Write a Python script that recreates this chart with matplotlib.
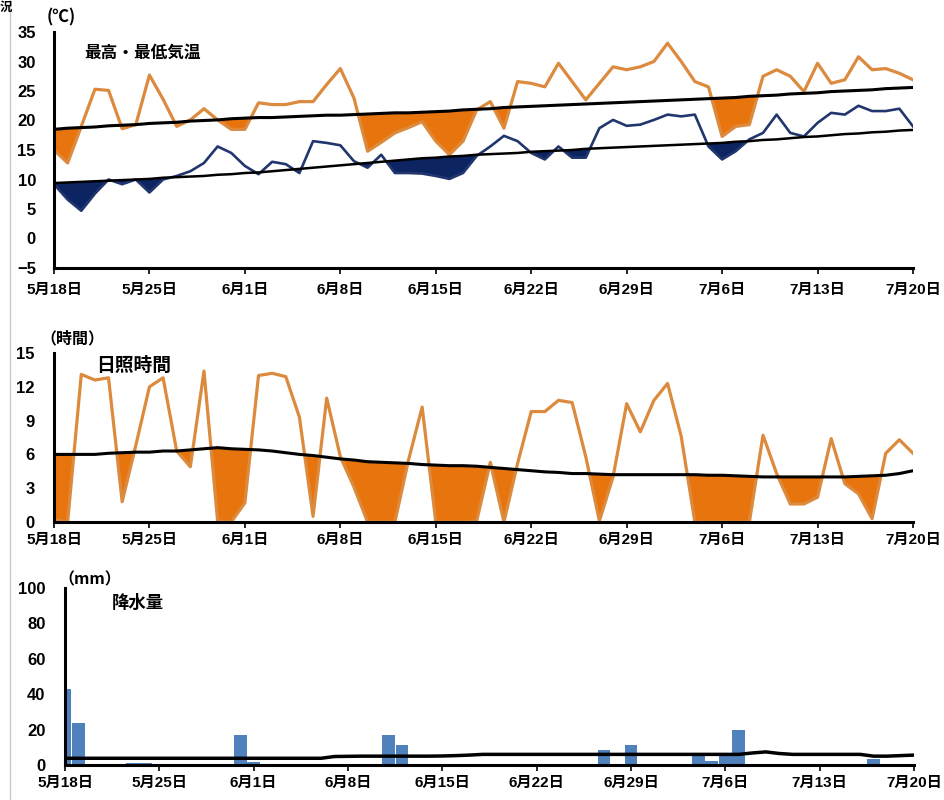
import numpy as np
import matplotlib
matplotlib.use('Agg')
import matplotlib.pyplot as plt
from matplotlib.lines import Line2D

plt.rcParams['font.family'] = ['Noto Sans CJK JP', 'DejaVu Sans']
plt.rcParams['font.weight'] = 'bold'
TICK_FONT = ['Liberation Sans', 'Noto Sans CJK JP']

# days from 5/18 to 7/20
tick_days = [0, 7, 14, 21, 28, 35, 42, 49, 56, 63]
tick_labels = ['5月18日', '5月25日', '6月1日', '6月8日', '6月15日',
               '6月22日', '6月29日', '7月6日', '7月13日', '7月20日']

t_max = [15.0, 12.8, 19.0, 25.3, 25.1, 18.6, 19.3, 27.7, 23.6, 19.0,
         20.1, 22.0, 20.1, 18.5, 18.5, 23.0, 22.7, 22.7, 23.2, 23.2,
         26.1, 28.8, 23.8, 14.8, 16.3, 17.9, 18.8, 19.8, 16.5, 14.2,
         16.5, 21.8, 23.2, 18.7, 26.6, 26.3, 25.7, 29.7, 26.6, 23.5,
         26.3, 29.1, 28.6, 29.1, 30.0, 33.1, 30.0, 26.6, 25.7, 17.3,
         19.0, 19.3, 27.5, 28.6, 27.5, 24.9, 29.7, 26.3, 26.9, 30.8,
         28.6, 28.8, 28.0, 26.9]
t_max_norm = [18.5, 18.7, 18.8, 18.9, 19.1, 19.2, 19.3, 19.5, 19.6, 19.7,
              19.9, 20.0, 20.1, 20.3, 20.4, 20.5, 20.5, 20.6, 20.7, 20.8,
              20.9, 20.9, 21.0, 21.1, 21.2, 21.3, 21.3, 21.4, 21.5, 21.6,
              21.8, 21.9, 22.0, 22.2, 22.3, 22.4, 22.5, 22.6, 22.7, 22.8,
              22.9, 23.0, 23.1, 23.2, 23.3, 23.4, 23.5, 23.6, 23.7, 23.8,
              23.9, 24.1, 24.2, 24.3, 24.5, 24.6, 24.7, 24.9, 25.0, 25.1,
              25.2, 25.4, 25.5, 25.6]
t_min = [9.2, 6.6, 4.7, 7.6, 10.0, 9.2, 10.0, 7.8, 10.0, 10.6,
         11.4, 12.8, 15.6, 14.5, 12.3, 10.9, 13.0, 12.6, 11.1, 16.5,
         16.2, 15.8, 13.1, 12.0, 14.2, 11.1, 11.1, 11.0, 10.6, 10.1,
         11.1, 14.0, 15.6, 17.4, 16.5, 14.5, 13.4, 15.6, 13.7, 13.7,
         18.7, 20.1, 19.1, 19.3, 20.1, 21.0, 20.7, 21.0, 15.6, 13.4,
         14.8, 16.8, 17.9, 21.0, 17.9, 17.3, 19.6, 21.3, 21.0, 22.5,
         21.6, 21.6, 22.0, 19.0]
t_min_norm = [9.4, 9.5, 9.6, 9.7, 9.8, 9.9, 10.0, 10.1, 10.3, 10.4,
              10.5, 10.6, 10.8, 10.9, 11.1, 11.2, 11.4, 11.6, 11.8, 12.0,
              12.2, 12.4, 12.6, 12.8, 13.0, 13.2, 13.4, 13.6, 13.7, 13.9,
              14.0, 14.2, 14.3, 14.4, 14.5, 14.7, 14.8, 14.9, 15.0, 15.2,
              15.3, 15.4, 15.5, 15.6, 15.7, 15.8, 15.9, 16.0, 16.1, 16.2,
              16.4, 16.5, 16.7, 16.8, 17.0, 17.2, 17.3, 17.5, 17.7, 17.8,
              18.0, 18.1, 18.3, 18.4]

sun = [0.2, 0.0, 13.1, 12.6, 12.8, 1.8, 6.8, 12.0, 12.8, 6.3,
       4.9, 13.4, 0.1, 0.0, 1.7, 13.0, 13.2, 12.9, 9.3, 0.5,
       11.0, 5.8, 3.1, 0.0, 0.0, 0.0, 5.5, 10.2, 0.0, 0.0,
       0.0, 0.1, 5.3, 0.0, 5.2, 9.8, 9.8, 10.8, 10.6, 5.8,
       0.1, 4.0, 10.5, 8.0, 10.8, 12.3, 7.6, 0.0, 0.0, 0.0,
       0.0, 0.0, 7.7, 4.3, 1.6, 1.6, 2.2, 7.4, 3.4, 2.5,
       0.3, 6.1, 7.3, 6.1]
sun_norm = [6.0, 6.0, 6.0, 6.0, 6.1, 6.15, 6.2, 6.2, 6.3, 6.3,
            6.4, 6.5, 6.6, 6.5, 6.45, 6.4, 6.3, 6.15, 6.0, 5.9,
            5.75, 5.6, 5.5, 5.35, 5.3, 5.25, 5.2, 5.1, 5.05, 5.0,
            5.0, 4.95, 4.85, 4.75, 4.65, 4.55, 4.45, 4.4, 4.3, 4.3,
            4.25, 4.2, 4.2, 4.2, 4.2, 4.2, 4.2, 4.2, 4.15, 4.15,
            4.1, 4.05, 4.0, 4.0, 4.0, 4.0, 4.0, 4.0, 4.0, 4.05,
            4.1, 4.15, 4.3, 4.55]

rain = [43, 24, 0, 0, 0, 1, 1, 0, 0, 0,
        0, 0, 0, 17, 1.5, 0, 0, 0, 0, 0,
        0, 0, 0, 0.5, 17, 11.5, 0.5, 0, 0, 0,
        0, 0, 0, 0.5, 0, 0, 0, 0, 0, 0,
        8.5, 0, 11.5, 0.5, 0, 0, 0, 6.5, 2.5, 6,
        20, 0, 0.5, 0, 0, 0.5, 0.5, 0, 0, 0,
        3.5, 0, 0, 0]
rain_norm = [3.8] * 20 + [4.8, 4.9, 5.0, 5.0, 5.0, 5.0, 5.0, 5.0, 5.1, 5.3, 5.6] \
    + [6.0] * 20 + [6.8, 7.4, 6.5] + [6.0] * 6 + [5.0, 5.0, 5.3, 5.6]

days = np.arange(len(t_max))
W, H = 944, 800
ORANGE_LINE = '#DB8A3E'
ORANGE_FILL = '#E8740E'
NAVY_LINE = '#22366E'
NAVY_FILL = '#0C2462'
BAR = '#4F81BD'


def box(l, t, r, b):
    return [l / W, 1 - b / H, (r - l) / W, (b - t) / H]


def style(ax, ypad, xpad):
    for s in ['top', 'right']:
        ax.spines[s].set_visible(False)
    for s in ['left', 'bottom']:
        ax.spines[s].set_linewidth(2.2)
        ax.spines[s].set_color('black')
    ax.set_xlim(0, 63)
    ax.set_xticks(tick_days)
    ax.set_xticklabels(tick_labels)
    ax.tick_params(axis='y', length=0, pad=ypad, labelsize=12)
    ax.tick_params(axis='x', length=4, width=1.2, pad=xpad, labelsize=11, direction='out')
    for lab in ax.get_xticklabels() + ax.get_yticklabels():
        lab.set_fontweight('bold')
        lab.set_family(TICK_FONT)
    ax.patch.set_alpha(0)


fig = plt.figure(figsize=(W / 100, H / 100), dpi=100)

# temperature
ax1 = fig.add_axes(box(54, 32, 913, 268))
tmax = np.array(t_max)
tmaxn = np.array(t_max_norm)
tmin = np.array(t_min)
tminn = np.array(t_min_norm)
ax1.fill_between(days, tmax, tmaxn, where=tmax < tmaxn, interpolate=True,
                 color=ORANGE_FILL, lw=0, zorder=1)
ax1.fill_between(days, tmin, tminn, where=tmin < tminn, interpolate=True,
                 color=NAVY_FILL, lw=0, zorder=1)
ax1.plot(days, tmax, color=ORANGE_LINE, lw=2.3, zorder=2)
ax1.plot(days, tmin, color=NAVY_LINE, lw=1.9, zorder=2)
ax1.plot(days, tmaxn, color='black', lw=2.2, zorder=3)
ax1.plot(days, tminn, color='black', lw=1.8, zorder=3)
ax1.set_ylim(-5, 35)
ax1.set_yticks(range(-5, 36, 5))
style(ax1, 13, 7)

# sunshine
ax2 = fig.add_axes(box(54, 353, 913, 522))
s = np.array(sun)
sn = np.array(sun_norm)
ax2.fill_between(days, s, sn, where=s < sn, interpolate=True,
                 color=ORANGE_FILL, lw=0, zorder=1)
ax2.plot(days, s, color=ORANGE_LINE, lw=2.3, zorder=2)
ax2.plot(days, sn, color='black', lw=2.2, zorder=3)
ax2.set_ylim(0, 15)
ax2.set_yticks(range(0, 16, 3))
style(ax2, 14, 4)

# precipitation
ax3 = fig.add_axes(box(65, 588, 914, 765))
ax3.bar(days, rain, width=0.95, color=BAR, zorder=1)
ax3.plot(days, rain_norm, color='black', lw=2.5, zorder=3)
ax3.set_ylim(0, 100)
ax3.set_yticks(range(0, 101, 20))
style(ax3, 14, 4)


def label(x, y, text, size):
    fig.text(x / W, 1 - y / H, text, fontsize=size, fontweight='bold',
             ha='left', va='center')


label(47, 17, '(℃)', 12)
label(84, 53, '最高・最低気温', 12)
label(40, 338, '（時間）', 11.5)
label(96, 365, '日照時間', 13.5)
label(58, 579, '（mm）', 11.5)
label(112, 603, '降水量', 12.5)
label(0, 7, '況', 9)

fig.add_artist(Line2D([10 / W, 10 / W], [0, 1], color='#C8C8C8', lw=1))

fig.savefig('out.png', dpi=100)
